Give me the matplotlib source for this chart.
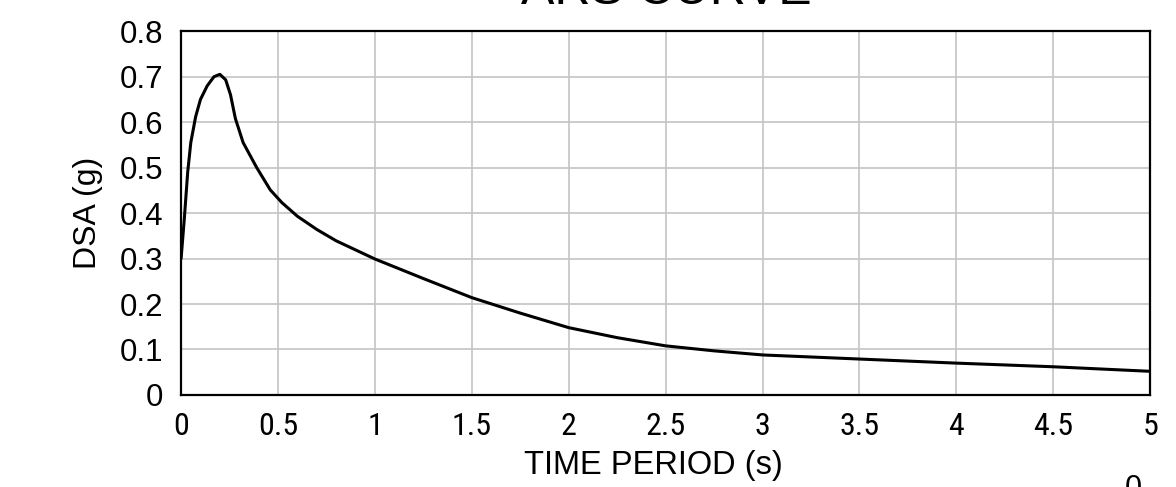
import matplotlib
matplotlib.use('Agg')
import matplotlib.pyplot as plt
from matplotlib import font_manager

# ARS curve
period = [0, 0.017, 0.034, 0.05, 0.075, 0.10, 0.135, 0.17, 0.20, 0.23,
          0.255, 0.28, 0.32, 0.39, 0.46, 0.52, 0.60, 0.70, 0.80, 0.90, 1.0,
          1.25, 1.5, 1.75, 2.0, 2.25, 2.5, 2.75, 3.0, 3.5, 4.0, 4.5, 5.0]
dsa = [0.30, 0.39, 0.49, 0.555, 0.612, 0.65, 0.68, 0.70, 0.705, 0.693,
       0.66, 0.608, 0.555, 0.50, 0.451, 0.423, 0.393, 0.364, 0.339, 0.319, 0.299,
       0.256, 0.214, 0.18, 0.148, 0.126, 0.108, 0.097, 0.088, 0.079, 0.070,
       0.062, 0.052]

xticks = [0, 0.5, 1, 1.5, 2, 2.5, 3, 3.5, 4, 4.5, 5]
xtick_labels = ['0', '0.5', '1', '1.5', '2', '2.5', '3', '3.5', '4', '4.5', '5']
yticks = [0, 0.1, 0.2, 0.3, 0.4, 0.5, 0.6, 0.7, 0.8]
ytick_labels = ['0', '0.1', '0.2', '0.3', '0.4', '0.5', '0.6', '0.7', '0.8']

plt.rcParams['font.family'] = ['Liberation Sans', 'DejaVu Sans']
names = {f.name for f in font_manager.fontManager.ttflist}
narrow = [n for n in ['Liberation Sans Narrow', 'Roboto Condensed',
                      'Open Sans Condensed'] if n in names]
narrow = narrow[0] if narrow else 'Liberation Sans'

fig = plt.figure(figsize=(11.76, 4.87), dpi=100)
ax = fig.add_axes([0.154, 0.189, 0.824, 0.747])

ax.plot(period, dsa, color='black', lw=2.2, solid_capstyle='round',
        solid_joinstyle='round')

ax.set_xlim(0, 5)
ax.set_ylim(0, 0.8)
ax.set_xticks(xticks)
ax.set_xticklabels(xtick_labels, family=narrow,
                   fontsize=23 if narrow != 'Liberation Sans' else 20)
ax.set_yticks(yticks)
ax.set_yticklabels(ytick_labels, fontsize=22.5)
ax.tick_params(axis='both', length=0)
ax.tick_params(axis='x', pad=12)
ax.tick_params(axis='y', pad=13)

ax.grid(True, color='#c4c4c4', lw=1.2)
ax.set_axisbelow(True)
for s in ax.spines.values():
    s.set_linewidth(1.6)
    s.set_color('black')

ax.set_xlabel('TIME PERIOD (s)', fontsize=23.5)
ax.xaxis.set_label_coords(0.487, -0.15)
ax.set_ylabel('DSA (g)', fontsize=23, labelpad=12)

fig.text(0.567, 0.991, 'ARS CURVE', fontsize=36, ha='center', va='baseline')
fig.text(1133 / 1176, -0.02, '0', fontsize=22, ha='center', va='baseline')

fig.savefig('out.png', dpi=100)
